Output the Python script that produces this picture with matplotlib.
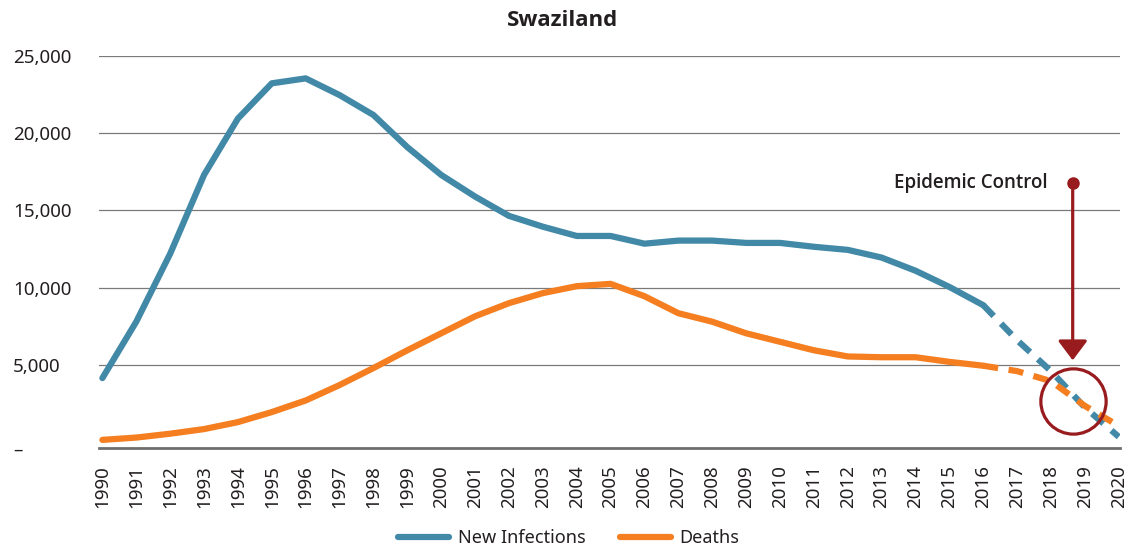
import matplotlib
matplotlib.use("Agg")
import matplotlib.pyplot as plt

years = list(range(1990, 2021))
new_infections = [4150, 7800, 12200, 17300, 20950, 23230, 23550, 22470, 21180, 19100,
                  17300, 15900, 14650, 13950, 13350, 13350, 12850, 13050, 13050, 12900,
                  12900, 12650, 12450, 11950, 11100, 10050, 8870, 6600, 4600, 2250, 350]
deaths = [150, 300, 550, 850, 1300, 1950, 2700, 3700, 4800, 5950,
          7050, 8150, 9000, 9650, 10100, 10250, 9450, 8350, 7800, 7050,
          6500, 5950, 5550, 5500, 5500, 5200, 4950, 4600, 3950, 2350, 1050]
last_actual = 2016  # projections after this year are dashed

yticks = [-400, 5000, 10000, 15000, 20000, 25000]
ytick_labels = ["\u2013", "5,000", "10,000", "15,000", "20,000", "25,000"]

control_year = 2018.64
control_top = 16775
control_tip = 5300
control_level = 2690

blue = "#4289A8"
orange = "#F47E20"
red = "#981B1E"
txt = "#231F20"

plt.rcParams["font.family"] = ["Noto Sans", "DejaVu Sans"]

fig = plt.figure(figsize=(11.38, 5.57), dpi=100)
ax = fig.add_axes([0.087, 0.195, 0.897, 0.7045])

k = years.index(last_actual)
ax.plot(years[:k + 1], new_infections[:k + 1], color=blue, lw=4.5,
        solid_capstyle="round", label="New Infections")
ax.plot(years[k:], new_infections[k:], color=blue, lw=4.5,
        dashes=(2.4, 1.7), dash_capstyle="butt")
ax.plot(years[:k + 1], deaths[:k + 1], color=orange, lw=4.5,
        solid_capstyle="round", label="Deaths")
ax.plot(years[k:], deaths[k:], color=orange, lw=4.5,
        dashes=(2.4, 1.7), dash_capstyle="butt")

# epidemic control marker
ax.plot([control_year], [control_level], marker="o", ms=47, mfc="none",
        mec=red, mew=2.3, zorder=5)
ax.plot([control_year], [control_top], marker="o", ms=8, color=red, zorder=5)
ax.annotate("", xy=(control_year, control_tip), xytext=(control_year, control_top),
            arrowprops=dict(arrowstyle="-|>,head_length=0.6,head_width=0.45",
                            color=red, lw=2.3, shrinkA=0, shrinkB=0,
                            mutation_scale=20))
ax.text(control_year - 0.75, control_top, "Epidemic Control", ha="right",
        va="center", fontsize=13.5, color=txt, fontweight="semibold",
        family=["Open Sans", "DejaVu Sans"])

ax.set_xlim(1989.9, 2020.03)
ax.set_ylim(-400, 25000)
ax.set_xticks(years)
ax.set_xticklabels([str(y) for y in years], rotation=90, fontsize=13.5, color=txt)
ax.set_yticks(yticks)
ax.set_yticklabels(ytick_labels, fontsize=13.5, color=txt)
for lab in ax.get_yticklabels():
    lab.set_horizontalalignment("left")
ax.tick_params(axis="y", length=0, pad=62)
ax.tick_params(axis="x", length=0, pad=12)

for v in yticks[1:]:
    ax.axhline(v, color="#7a7a7a", lw=0.9, zorder=0)
for s in ["top", "right", "left"]:
    ax.spines[s].set_visible(False)
ax.spines["bottom"].set_color("#6e6e6e")
ax.spines["bottom"].set_linewidth(2)

fig.text(0.494, 0.963, "Swaziland", ha="center", va="center", fontsize=16,
         fontweight="bold", color=txt, family=["Open Sans", "DejaVu Sans"])

fig.legend(loc="center", bbox_to_anchor=(0.5, 0.034), ncol=2, frameon=False,
           fontsize=13, handlelength=2.8, handletextpad=0.5, columnspacing=1.9,
           labelcolor=txt)

fig.savefig("out.png", dpi=100)
